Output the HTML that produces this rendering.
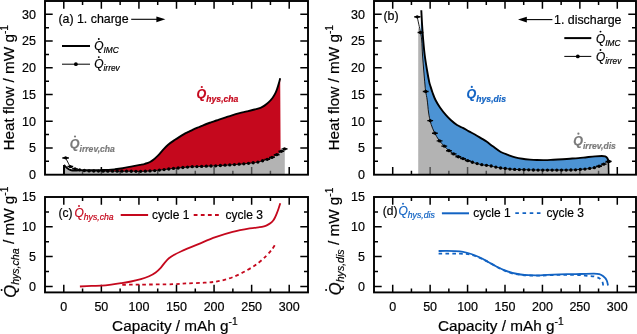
<!DOCTYPE html>
<html><head><meta charset="utf-8"><style>
html,body{margin:0;padding:0;background:#fff;width:637px;height:334px;overflow:hidden}
svg{display:block;will-change:transform}
text{font-family:"Liberation Sans",sans-serif;stroke:#000;stroke-width:.2px}
</style></head><body>
<svg xmlns="http://www.w3.org/2000/svg" width="637" height="334" viewBox="0 0 637 334">
<path d="M392.71,292.4 v-7.7 M392.71,197 v7.7 M411.43,292.4 v-4 M411.43,197 v4 M430.14,292.4 v-7.7 M430.14,197 v7.7 M448.86,292.4 v-4 M448.86,197 v4 M467.57,292.4 v-7.7 M467.57,197 v7.7 M486.29,292.4 v-4 M486.29,197 v4 M505,292.4 v-7.7 M505,197 v7.7 M523.71,292.4 v-4 M523.71,197 v4 M542.43,292.4 v-7.7 M542.43,197 v7.7 M561.14,292.4 v-4 M561.14,197 v4 M579.86,292.4 v-7.7 M579.86,197 v7.7 M598.57,292.4 v-4 M598.57,197 v4 M617.29,292.4 v-7.7 M617.29,197 v7.7 M374,286.44 h7.7 M636,286.44 h-7.7 M374,271.53 h4 M636,271.53 h-4 M374,256.62 h7.7 M636,256.62 h-7.7 M374,241.72 h4 M636,241.72 h-4 M374,226.81 h7.7 M636,226.81 h-7.7 M374,211.91 h4 M636,211.91 h-4" stroke="#000" stroke-width="1.5" fill="none"/>
<path d="M63.79,292.4 v-7.7 M63.79,197 v7.7 M82.57,292.4 v-4 M82.57,197 v4 M101.36,292.4 v-7.7 M101.36,197 v7.7 M120.14,292.4 v-4 M120.14,197 v4 M138.93,292.4 v-7.7 M138.93,197 v7.7 M157.71,292.4 v-4 M157.71,197 v4 M176.5,292.4 v-7.7 M176.5,197 v7.7 M195.29,292.4 v-4 M195.29,197 v4 M214.07,292.4 v-7.7 M214.07,197 v7.7 M232.86,292.4 v-4 M232.86,197 v4 M251.64,292.4 v-7.7 M251.64,197 v7.7 M270.43,292.4 v-4 M270.43,197 v4 M289.21,292.4 v-7.7 M289.21,197 v7.7 M45,286.44 h7.7 M308,286.44 h-7.7 M45,271.53 h4 M308,271.53 h-4 M45,256.62 h7.7 M308,256.62 h-7.7 M45,241.72 h4 M308,241.72 h-4 M45,226.81 h7.7 M308,226.81 h-7.7 M45,211.91 h4 M308,211.91 h-4" stroke="#000" stroke-width="1.5" fill="none"/>
<path d="M392.71,174.7 v-7.7 M392.71,1 v7.7 M411.43,174.7 v-4 M411.43,1 v4 M430.14,174.7 v-7.7 M430.14,1 v7.7 M448.86,174.7 v-4 M448.86,1 v4 M467.57,174.7 v-7.7 M467.57,1 v7.7 M486.29,174.7 v-4 M486.29,1 v4 M505,174.7 v-7.7 M505,1 v7.7 M523.71,174.7 v-4 M523.71,1 v4 M542.43,174.7 v-7.7 M542.43,1 v7.7 M561.14,174.7 v-4 M561.14,1 v4 M579.86,174.7 v-7.7 M579.86,1 v7.7 M598.57,174.7 v-4 M598.57,1 v4 M617.29,174.7 v-7.7 M617.29,1 v7.7 M374,161.34 h4 M636,161.34 h-4 M374,147.98 h7.7 M636,147.98 h-7.7 M374,134.62 h4 M636,134.62 h-4 M374,121.25 h7.7 M636,121.25 h-7.7 M374,107.89 h4 M636,107.89 h-4 M374,94.53 h7.7 M636,94.53 h-7.7 M374,81.17 h4 M636,81.17 h-4 M374,67.81 h7.7 M636,67.81 h-7.7 M374,54.45 h4 M636,54.45 h-4 M374,41.08 h7.7 M636,41.08 h-7.7 M374,27.72 h4 M636,27.72 h-4 M374,14.36 h7.7 M636,14.36 h-7.7" stroke="#000" stroke-width="1.5" fill="none"/>
<path d="M63.79,174.7 v-7.7 M63.79,1 v7.7 M82.57,174.7 v-4 M82.57,1 v4 M101.36,174.7 v-7.7 M101.36,1 v7.7 M120.14,174.7 v-4 M120.14,1 v4 M138.93,174.7 v-7.7 M138.93,1 v7.7 M157.71,174.7 v-4 M157.71,1 v4 M176.5,174.7 v-7.7 M176.5,1 v7.7 M195.29,174.7 v-4 M195.29,1 v4 M214.07,174.7 v-7.7 M214.07,1 v7.7 M232.86,174.7 v-4 M232.86,1 v4 M251.64,174.7 v-7.7 M251.64,1 v7.7 M270.43,174.7 v-4 M270.43,1 v4 M289.21,174.7 v-7.7 M289.21,1 v7.7 M45,161.34 h4 M308,161.34 h-4 M45,147.98 h7.7 M308,147.98 h-7.7 M45,134.62 h4 M308,134.62 h-4 M45,121.25 h7.7 M308,121.25 h-7.7 M45,107.89 h4 M308,107.89 h-4 M45,94.53 h7.7 M308,94.53 h-7.7 M45,81.17 h4 M308,81.17 h-4 M45,67.81 h7.7 M308,67.81 h-7.7 M45,54.45 h4 M308,54.45 h-4 M45,41.08 h7.7 M308,41.08 h-7.7 M45,27.72 h4 M308,27.72 h-4 M45,14.36 h7.7 M308,14.36 h-7.7" stroke="#000" stroke-width="1.5" fill="none"/>
<path d="M64,174.7 L64,166.5 C64.33,166.83 65.25,168 66,168.5 C66.75,169 67.5,169.22 68.5,169.5 C69.5,169.78 70.75,169.98 72,170.2 C73.25,170.42 73.98,170.75 76,170.8 C78.02,170.85 81.98,170.48 84.1,170.5 C86.22,170.52 86.05,170.8 88.7,170.9 C91.35,171 96.45,171.05 100,171.1 C103.55,171.15 105,171.18 110,171.2 C115,171.22 125,171.17 130,171.2 C135,171.23 137.5,171.4 140,171.4 C142.5,171.4 143.33,171.28 145,171.2 C146.67,171.12 148.4,171 150,170.9 C151.6,170.8 153.05,170.73 154.6,170.6 C156.15,170.47 157.73,170.27 159.3,170.1 C160.87,169.93 162.42,169.78 164,169.6 C165.58,169.42 167.22,169.2 168.8,169 C170.38,168.8 171.93,168.57 173.5,168.4 C175.07,168.23 176.63,168.15 178.2,168 C179.77,167.85 181.33,167.65 182.9,167.5 C184.47,167.35 186.02,167.23 187.6,167.1 C189.18,166.97 190.9,166.78 192.4,166.7 C193.9,166.62 192.78,166.75 196.6,166.6 C200.42,166.45 209.03,166.13 215.3,165.8 C221.57,165.47 229.25,164.95 234.2,164.6 C239.15,164.25 241.87,164 245,163.7 C248.13,163.4 250.83,163.07 253,162.8 C255.17,162.53 256.43,162.43 258,162.1 C259.57,161.77 260.92,161.23 262.4,160.8 C263.88,160.37 265.38,160.02 266.9,159.5 C268.42,158.98 269.98,158.42 271.5,157.7 C273.02,156.98 274.48,156.18 276,155.2 C277.52,154.22 279.18,152.85 280.6,151.8 C282.02,150.75 283.85,149.38 284.5,148.9 L284.8,148.9 L284.8,174.7 Z" fill="#838383" fill-opacity="0.61"/>
<path d="M100,170.1 C101.43,170.07 106.1,170.03 108.6,169.9 C111.1,169.77 112.65,169.58 115,169.3 C117.35,169.02 119.83,168.68 122.7,168.2 C125.57,167.72 129.32,166.95 132.2,166.4 C135.08,165.85 137.87,165.33 140,164.9 C142.13,164.47 143.33,164.28 145,163.8 C146.67,163.32 148.43,162.82 150,162 C151.57,161.18 153.03,160 154.4,158.9 C155.77,157.8 156.73,156.95 158.2,155.4 C159.67,153.85 161.55,151.38 163.2,149.6 C164.85,147.82 166.13,146.33 168.1,144.7 C170.07,143.07 173.1,141.1 175,139.8 C176.9,138.5 178,137.83 179.5,136.9 C181,135.97 182.5,135.03 184,134.2 C185.5,133.37 187,132.67 188.5,131.9 C190,131.13 191.5,130.32 193,129.6 C194.5,128.88 196,128.23 197.5,127.6 C199,126.97 200.52,126.4 202,125.8 C203.48,125.2 204.92,124.57 206.4,124 C207.88,123.43 209.47,122.9 210.9,122.4 C212.33,121.9 213.65,121.47 215,121 C216.35,120.53 217.33,120.17 219,119.6 C220.67,119.03 222.83,118.32 225,117.6 C227.17,116.88 229.58,116.03 232,115.3 C234.42,114.57 237,113.85 239.5,113.2 C242,112.55 244.5,112.02 247,111.4 C249.5,110.78 252.25,110.1 254.5,109.5 C256.75,108.9 258.83,108.45 260.5,107.8 C262.17,107.15 263.17,106.5 264.5,105.6 C265.83,104.7 267.17,103.67 268.5,102.4 C269.83,101.13 271.35,99.53 272.5,98 C273.65,96.47 274.6,94.8 275.4,93.2 C276.2,91.6 276.73,90 277.3,88.4 C277.87,86.8 278.32,85.28 278.8,83.6 C279.28,81.92 279.97,79.18 280.2,78.3 L280.6,151.8 C279.83,152.37 277.52,154.22 276,155.2 C274.48,156.18 273.02,156.98 271.5,157.7 C269.98,158.42 268.42,158.98 266.9,159.5 C265.38,160.02 263.88,160.37 262.4,160.8 C260.92,161.23 259.57,161.77 258,162.1 C256.43,162.43 255.17,162.53 253,162.8 C250.83,163.07 248.13,163.4 245,163.7 C241.87,164 239.15,164.25 234.2,164.6 C229.25,164.95 221.57,165.47 215.3,165.8 C209.03,166.13 200.42,166.45 196.6,166.6 C192.78,166.75 193.9,166.62 192.4,166.7 C190.9,166.78 189.18,166.97 187.6,167.1 C186.02,167.23 184.47,167.35 182.9,167.5 C181.33,167.65 179.77,167.85 178.2,168 C176.63,168.15 175.07,168.23 173.5,168.4 C171.93,168.57 170.38,168.8 168.8,169 C167.22,169.2 165.58,169.42 164,169.6 C162.42,169.78 160.87,169.93 159.3,170.1 C157.73,170.27 156.15,170.47 154.6,170.6 C153.05,170.73 151.6,170.8 150,170.9 C148.4,171 146.67,171.12 145,171.2 C143.33,171.28 142.5,171.4 140,171.4 C137.5,171.4 135,171.23 130,171.2 C125,171.17 115,171.22 110,171.2 C105,171.18 101.67,171.12 100,171.1 Z" fill="#c5081d"/>
<path d="M418.2,174.7 L418.2,27 L420.5,32.5 C420.7,33.75 421.37,36.25 421.7,40 C422.03,43.75 422.17,50 422.5,55 C422.83,60 423.28,65 423.7,70 C424.12,75 424.67,81.42 425,85 C425.33,88.58 425.33,89 425.7,91.5 C426.07,94 426.73,96.58 427.2,100 C427.67,103.42 428.08,108.88 428.5,112 C428.92,115.12 429.25,116.62 429.7,118.7 C430.15,120.78 430.43,122.25 431.2,124.5 C431.97,126.75 432.98,129.55 434.3,132.2 C435.62,134.85 437.45,138.1 439.1,140.4 C440.75,142.7 442.58,144.3 444.2,146 C445.82,147.7 447.32,149.33 448.8,150.6 C450.28,151.87 451.53,152.58 453.1,153.6 C454.67,154.62 456.5,155.85 458.2,156.7 C459.9,157.55 461.62,158 463.3,158.7 C464.98,159.4 466.62,160.25 468.3,160.9 C469.98,161.55 471.7,162.08 473.4,162.6 C475.1,163.12 476.8,163.6 478.5,164 C480.2,164.4 482.1,164.77 483.6,165 C485.1,165.23 486.25,165.23 487.5,165.4 C488.75,165.57 489.72,165.72 491.1,166 C492.48,166.28 494.25,166.77 495.8,167.1 C497.35,167.43 498.85,167.77 500.4,168 C501.95,168.23 503.53,168.32 505.1,168.5 C506.67,168.68 508.23,168.95 509.8,169.1 C511.37,169.25 512.95,169.32 514.5,169.4 C516.05,169.48 517.55,169.55 519.1,169.6 C520.65,169.65 522.23,169.67 523.8,169.7 C525.37,169.73 526.9,169.75 528.5,169.8 C530.1,169.85 531.02,169.95 533.4,170 C535.78,170.05 539.7,170.08 542.8,170.1 C545.9,170.12 548.88,170.1 552,170.1 C555.12,170.1 558.37,170.12 561.5,170.1 C564.63,170.08 568.48,170.05 570.8,170 C573.12,169.95 573.85,169.9 575.4,169.8 C576.95,169.7 578.55,169.52 580.1,169.4 C581.65,169.28 583.17,169.25 584.7,169.1 C586.23,168.95 587.7,168.73 589.3,168.5 C590.9,168.27 592.7,168.07 594.3,167.7 C595.9,167.33 597.37,166.87 598.9,166.3 C600.43,165.73 602.17,165.05 603.5,164.3 C604.83,163.55 606.33,162.22 606.9,161.8 L608.7,161.6 L608.7,174.7 Z" fill="#838383" fill-opacity="0.61"/>
<path d="M421.3,10.2 C421.43,12.67 421.78,20.03 422.1,25 C422.42,29.97 422.77,35 423.2,40 C423.63,45 424.07,50 424.7,55 C425.33,60 426.25,65.52 427,70 C427.75,74.48 428.63,79.23 429.2,81.9 C429.77,84.57 429.85,84.23 430.4,86 C430.95,87.77 431.65,90.17 432.5,92.5 C433.35,94.83 434.25,97.5 435.5,100 C436.75,102.5 438.25,104.97 440,107.5 C441.75,110.03 444.17,113.07 446,115.2 C447.83,117.33 449.17,118.67 451,120.3 C452.83,121.93 455.02,123.73 457,125 C458.98,126.27 460.92,126.85 462.9,127.9 C464.88,128.95 466.9,130.2 468.9,131.3 C470.9,132.4 472.9,133.37 474.9,134.5 C476.9,135.63 478.9,136.88 480.9,138.1 C482.9,139.32 484.92,140.43 486.9,141.8 C488.88,143.17 490.48,144.6 492.8,146.3 C495.12,148 498.27,150.57 500.8,152 C503.33,153.43 505.6,154 508,154.9 C510.4,155.8 512.8,156.75 515.2,157.4 C517.6,158.05 519.93,158.43 522.4,158.8 C524.87,159.17 527.57,159.4 530,159.6 C532.43,159.8 534.5,159.92 537,160 C539.5,160.08 542.28,160.15 545,160.1 C547.72,160.05 550.35,159.85 553.3,159.7 C556.25,159.55 559.92,159.37 562.7,159.2 C565.48,159.03 567.38,158.88 570,158.7 C572.62,158.52 575.6,158.35 578.4,158.1 C581.2,157.85 584.02,157.48 586.8,157.2 C589.58,156.92 592.58,156.6 595.1,156.4 C597.62,156.2 600.22,156 601.9,156 C603.58,156 604.3,156.05 605.2,156.4 C606.1,156.75 606.77,157.4 607.3,158.1 C607.83,158.8 608.22,160.18 608.4,160.6 L608.7,161.6 L606.9,161.8 C606.33,162.22 604.83,163.55 603.5,164.3 C602.17,165.05 600.43,165.73 598.9,166.3 C597.37,166.87 595.9,167.33 594.3,167.7 C592.7,168.07 590.9,168.27 589.3,168.5 C587.7,168.73 586.23,168.95 584.7,169.1 C583.17,169.25 581.65,169.28 580.1,169.4 C578.55,169.52 576.95,169.7 575.4,169.8 C573.85,169.9 573.12,169.95 570.8,170 C568.48,170.05 564.63,170.08 561.5,170.1 C558.37,170.12 555.12,170.1 552,170.1 C548.88,170.1 545.9,170.12 542.8,170.1 C539.7,170.08 535.78,170.05 533.4,170 C531.02,169.95 530.1,169.85 528.5,169.8 C526.9,169.75 525.37,169.73 523.8,169.7 C522.23,169.67 520.65,169.65 519.1,169.6 C517.55,169.55 516.05,169.48 514.5,169.4 C512.95,169.32 511.37,169.25 509.8,169.1 C508.23,168.95 506.67,168.68 505.1,168.5 C503.53,168.32 501.95,168.23 500.4,168 C498.85,167.77 497.35,167.43 495.8,167.1 C494.25,166.77 492.48,166.28 491.1,166 C489.72,165.72 488.75,165.57 487.5,165.4 C486.25,165.23 485.1,165.23 483.6,165 C482.1,164.77 480.2,164.4 478.5,164 C476.8,163.6 475.1,163.12 473.4,162.6 C471.7,162.08 469.98,161.55 468.3,160.9 C466.62,160.25 464.98,159.4 463.3,158.7 C461.62,158 459.9,157.55 458.2,156.7 C456.5,155.85 454.67,154.62 453.1,153.6 C451.53,152.58 450.28,151.87 448.8,150.6 C447.32,149.33 445.82,147.7 444.2,146 C442.58,144.3 440.75,142.7 439.1,140.4 C437.45,138.1 435.62,134.85 434.3,132.2 C432.98,129.55 431.97,126.75 431.2,124.5 C430.43,122.25 430.15,120.78 429.7,118.7 C429.25,116.62 428.92,115.12 428.5,112 C428.08,108.88 427.67,103.42 427.2,100 C426.73,96.58 426.07,94 425.7,91.5 C425.33,89 425.33,88.58 425,85 C424.67,81.42 424.12,75 423.7,70 C423.28,65 422.83,60 422.5,55 C422.17,50 422.03,43.75 421.7,40 C421.37,36.25 420.7,33.75 420.5,32.5 Z" fill="#4c93d4"/>
<path d="M64,174.7 L64,164.9" stroke="#000" stroke-width="1.9"/>
<path d="M64,164.9 C64.25,165.18 64.95,166.05 65.5,166.6 C66.05,167.15 66.68,167.72 67.3,168.2 C67.92,168.68 68.55,169.17 69.2,169.5 C69.85,169.83 70.4,170.03 71.2,170.2 C72,170.37 72.7,170.47 74,170.5 C75.3,170.53 76.33,170.45 79,170.4 C81.67,170.35 86.5,170.25 90,170.2 C93.5,170.15 96.9,170.15 100,170.1 C103.1,170.05 106.1,170.03 108.6,169.9 C111.1,169.77 112.65,169.58 115,169.3 C117.35,169.02 119.83,168.68 122.7,168.2 C125.57,167.72 129.32,166.95 132.2,166.4 C135.08,165.85 137.87,165.33 140,164.9 C142.13,164.47 143.33,164.28 145,163.8 C146.67,163.32 148.43,162.82 150,162 C151.57,161.18 153.03,160 154.4,158.9 C155.77,157.8 156.73,156.95 158.2,155.4 C159.67,153.85 161.55,151.38 163.2,149.6 C164.85,147.82 166.13,146.33 168.1,144.7 C170.07,143.07 173.1,141.1 175,139.8 C176.9,138.5 178,137.83 179.5,136.9 C181,135.97 182.5,135.03 184,134.2 C185.5,133.37 187,132.67 188.5,131.9 C190,131.13 191.5,130.32 193,129.6 C194.5,128.88 196,128.23 197.5,127.6 C199,126.97 200.52,126.4 202,125.8 C203.48,125.2 204.92,124.57 206.4,124 C207.88,123.43 209.47,122.9 210.9,122.4 C212.33,121.9 213.65,121.47 215,121 C216.35,120.53 217.33,120.17 219,119.6 C220.67,119.03 222.83,118.32 225,117.6 C227.17,116.88 229.58,116.03 232,115.3 C234.42,114.57 237,113.85 239.5,113.2 C242,112.55 244.5,112.02 247,111.4 C249.5,110.78 252.25,110.1 254.5,109.5 C256.75,108.9 258.83,108.45 260.5,107.8 C262.17,107.15 263.17,106.5 264.5,105.6 C265.83,104.7 267.17,103.67 268.5,102.4 C269.83,101.13 271.35,99.53 272.5,98 C273.65,96.47 274.6,94.8 275.4,93.2 C276.2,91.6 276.73,90 277.3,88.4 C277.87,86.8 278.32,85.28 278.8,83.6 C279.28,81.92 279.97,79.18 280.2,78.3" fill="none" stroke="#000" stroke-width="1.9" stroke-linejoin="round" stroke-linecap="butt" />
<path d="M65.6,157.8 C65.87,158.33 66.57,159.77 67.2,161 C67.83,162.23 68.8,164.15 69.4,165.2 C70,166.25 69.9,166.7 70.8,167.3 C71.7,167.9 73.37,168.38 74.8,168.8 C76.23,169.22 77.85,169.52 79.4,169.8 C80.95,170.08 82.55,170.32 84.1,170.5 C85.65,170.68 86.05,170.8 88.7,170.9 C91.35,171 96.45,171.05 100,171.1 C103.55,171.15 105,171.18 110,171.2 C115,171.22 125,171.17 130,171.2 C135,171.23 137.5,171.4 140,171.4 C142.5,171.4 143.33,171.28 145,171.2 C146.67,171.12 148.4,171 150,170.9 C151.6,170.8 153.05,170.73 154.6,170.6 C156.15,170.47 157.73,170.27 159.3,170.1 C160.87,169.93 162.42,169.78 164,169.6 C165.58,169.42 167.22,169.2 168.8,169 C170.38,168.8 171.93,168.57 173.5,168.4 C175.07,168.23 176.63,168.15 178.2,168 C179.77,167.85 181.33,167.65 182.9,167.5 C184.47,167.35 186.02,167.23 187.6,167.1 C189.18,166.97 190.9,166.78 192.4,166.7 C193.9,166.62 192.78,166.75 196.6,166.6 C200.42,166.45 209.03,166.13 215.3,165.8 C221.57,165.47 229.25,164.95 234.2,164.6 C239.15,164.25 241.87,164 245,163.7 C248.13,163.4 250.83,163.07 253,162.8 C255.17,162.53 256.43,162.43 258,162.1 C259.57,161.77 260.92,161.23 262.4,160.8 C263.88,160.37 265.38,160.02 266.9,159.5 C268.42,158.98 269.98,158.42 271.5,157.7 C273.02,156.98 274.48,156.18 276,155.2 C277.52,154.22 279.18,152.85 280.6,151.8 C282.02,150.75 283.85,149.38 284.5,148.9" fill="none" stroke="#000" stroke-width="0.9" stroke-linejoin="round" stroke-linecap="butt" />
<circle cx="65.6" cy="157.8" r="1.65"/>
<circle cx="70.29" cy="166.53" r="1.65"/>
<circle cx="74.98" cy="168.84" r="1.65"/>
<circle cx="79.67" cy="169.84" r="1.65"/>
<circle cx="84.36" cy="170.52" r="1.65"/>
<circle cx="89.05" cy="170.91" r="1.65"/>
<circle cx="93.74" cy="170.99" r="1.65"/>
<circle cx="98.43" cy="171.07" r="1.65"/>
<circle cx="103.12" cy="171.13" r="1.65"/>
<circle cx="107.81" cy="171.18" r="1.65"/>
<circle cx="112.5" cy="171.2" r="1.65"/>
<circle cx="117.19" cy="171.2" r="1.65"/>
<circle cx="121.88" cy="171.2" r="1.65"/>
<circle cx="126.57" cy="171.2" r="1.65"/>
<circle cx="131.26" cy="171.23" r="1.65"/>
<circle cx="135.95" cy="171.32" r="1.65"/>
<circle cx="140.64" cy="171.37" r="1.65"/>
<circle cx="145.33" cy="171.18" r="1.65"/>
<circle cx="150.02" cy="170.9" r="1.65"/>
<circle cx="154.71" cy="170.59" r="1.65"/>
<circle cx="159.4" cy="170.09" r="1.65"/>
<circle cx="164.09" cy="169.59" r="1.65"/>
<circle cx="168.78" cy="169" r="1.65"/>
<circle cx="173.47" cy="168.4" r="1.65"/>
<circle cx="178.16" cy="168" r="1.65"/>
<circle cx="182.85" cy="167.51" r="1.65"/>
<circle cx="187.54" cy="167.11" r="1.65"/>
<circle cx="192.23" cy="166.71" r="1.65"/>
<circle cx="196.92" cy="166.59" r="1.65"/>
<circle cx="201.61" cy="166.39" r="1.65"/>
<circle cx="206.3" cy="166.19" r="1.65"/>
<circle cx="210.99" cy="165.98" r="1.65"/>
<circle cx="215.68" cy="165.78" r="1.65"/>
<circle cx="220.37" cy="165.48" r="1.65"/>
<circle cx="225.06" cy="165.18" r="1.65"/>
<circle cx="229.75" cy="164.88" r="1.65"/>
<circle cx="234.44" cy="164.58" r="1.65"/>
<circle cx="239.13" cy="164.19" r="1.65"/>
<circle cx="243.82" cy="163.8" r="1.65"/>
<circle cx="248.51" cy="163.31" r="1.65"/>
<circle cx="253.2" cy="162.77" r="1.65"/>
<circle cx="257.89" cy="162.12" r="1.65"/>
<circle cx="262.58" cy="160.75" r="1.65"/>
<circle cx="267.27" cy="159.36" r="1.65"/>
<circle cx="271.96" cy="157.44" r="1.65"/>
<circle cx="276.65" cy="154.72" r="1.65"/>
<circle cx="281.34" cy="151.25" r="1.65"/>
<circle cx="284.5" cy="148.9" r="1.65"/>
<path d="M62.3,158 h6.6" stroke="#000" stroke-width="1.2"/>
<path d="M284.5,148.9 h2.8" stroke="#000" stroke-width="1.2"/>
<path d="M421.3,10.2 C421.43,12.67 421.78,20.03 422.1,25 C422.42,29.97 422.77,35 423.2,40 C423.63,45 424.07,50 424.7,55 C425.33,60 426.25,65.52 427,70 C427.75,74.48 428.63,79.23 429.2,81.9 C429.77,84.57 429.85,84.23 430.4,86 C430.95,87.77 431.65,90.17 432.5,92.5 C433.35,94.83 434.25,97.5 435.5,100 C436.75,102.5 438.25,104.97 440,107.5 C441.75,110.03 444.17,113.07 446,115.2 C447.83,117.33 449.17,118.67 451,120.3 C452.83,121.93 455.02,123.73 457,125 C458.98,126.27 460.92,126.85 462.9,127.9 C464.88,128.95 466.9,130.2 468.9,131.3 C470.9,132.4 472.9,133.37 474.9,134.5 C476.9,135.63 478.9,136.88 480.9,138.1 C482.9,139.32 484.92,140.43 486.9,141.8 C488.88,143.17 490.48,144.6 492.8,146.3 C495.12,148 498.27,150.57 500.8,152 C503.33,153.43 505.6,154 508,154.9 C510.4,155.8 512.8,156.75 515.2,157.4 C517.6,158.05 519.93,158.43 522.4,158.8 C524.87,159.17 527.57,159.4 530,159.6 C532.43,159.8 534.5,159.92 537,160 C539.5,160.08 542.28,160.15 545,160.1 C547.72,160.05 550.35,159.85 553.3,159.7 C556.25,159.55 559.92,159.37 562.7,159.2 C565.48,159.03 567.38,158.88 570,158.7 C572.62,158.52 575.6,158.35 578.4,158.1 C581.2,157.85 584.02,157.48 586.8,157.2 C589.58,156.92 592.58,156.6 595.1,156.4 C597.62,156.2 600.22,156 601.9,156 C603.58,156 604.3,156.05 605.2,156.4 C606.1,156.75 606.77,157.4 607.3,158.1 C607.83,158.8 608.22,160.18 608.4,160.6" fill="none" stroke="#000" stroke-width="1.9" stroke-linejoin="round" stroke-linecap="butt" />
<path d="M608.4,160.6 L608.7,174.7" stroke="#000" stroke-width="1.6"/>
<path d="M417.2,16.8 C417.75,19.42 419.75,28.63 420.5,32.5 C421.25,36.37 421.37,36.25 421.7,40 C422.03,43.75 422.17,50 422.5,55 C422.83,60 423.28,65 423.7,70 C424.12,75 424.67,81.42 425,85 C425.33,88.58 425.33,89 425.7,91.5 C426.07,94 426.73,96.58 427.2,100 C427.67,103.42 428.08,108.88 428.5,112 C428.92,115.12 429.25,116.62 429.7,118.7 C430.15,120.78 430.43,122.25 431.2,124.5 C431.97,126.75 432.98,129.55 434.3,132.2 C435.62,134.85 437.45,138.1 439.1,140.4 C440.75,142.7 442.58,144.3 444.2,146 C445.82,147.7 447.32,149.33 448.8,150.6 C450.28,151.87 451.53,152.58 453.1,153.6 C454.67,154.62 456.5,155.85 458.2,156.7 C459.9,157.55 461.62,158 463.3,158.7 C464.98,159.4 466.62,160.25 468.3,160.9 C469.98,161.55 471.7,162.08 473.4,162.6 C475.1,163.12 476.8,163.6 478.5,164 C480.2,164.4 482.1,164.77 483.6,165 C485.1,165.23 486.25,165.23 487.5,165.4 C488.75,165.57 489.72,165.72 491.1,166 C492.48,166.28 494.25,166.77 495.8,167.1 C497.35,167.43 498.85,167.77 500.4,168 C501.95,168.23 503.53,168.32 505.1,168.5 C506.67,168.68 508.23,168.95 509.8,169.1 C511.37,169.25 512.95,169.32 514.5,169.4 C516.05,169.48 517.55,169.55 519.1,169.6 C520.65,169.65 522.23,169.67 523.8,169.7 C525.37,169.73 526.9,169.75 528.5,169.8 C530.1,169.85 531.02,169.95 533.4,170 C535.78,170.05 539.7,170.08 542.8,170.1 C545.9,170.12 548.88,170.1 552,170.1 C555.12,170.1 558.37,170.12 561.5,170.1 C564.63,170.08 568.48,170.05 570.8,170 C573.12,169.95 573.85,169.9 575.4,169.8 C576.95,169.7 578.55,169.52 580.1,169.4 C581.65,169.28 583.17,169.25 584.7,169.1 C586.23,168.95 587.7,168.73 589.3,168.5 C590.9,168.27 592.7,168.07 594.3,167.7 C595.9,167.33 597.37,166.87 598.9,166.3 C600.43,165.73 602.17,165.05 603.5,164.3 C604.83,163.55 605.97,162.28 606.9,161.8 C607.83,161.32 608.73,161.47 609.1,161.4" fill="none" stroke="#000" stroke-width="0.9" stroke-linejoin="round" stroke-linecap="butt" />
<circle cx="417.2" cy="16.8" r="1.65"/>
<circle cx="420.5" cy="32.5" r="1.65"/>
<circle cx="425.7" cy="91.5" r="1.65"/>
<circle cx="430.2" cy="120.63" r="1.65"/>
<circle cx="434.89" cy="133.21" r="1.65"/>
<circle cx="439.58" cy="140.93" r="1.65"/>
<circle cx="444.27" cy="146.07" r="1.65"/>
<circle cx="448.96" cy="150.71" r="1.65"/>
<circle cx="453.65" cy="153.93" r="1.65"/>
<circle cx="458.34" cy="156.75" r="1.65"/>
<circle cx="463.03" cy="158.59" r="1.65"/>
<circle cx="467.72" cy="160.64" r="1.65"/>
<circle cx="472.41" cy="162.27" r="1.65"/>
<circle cx="477.1" cy="163.62" r="1.65"/>
<circle cx="481.79" cy="164.65" r="1.65"/>
<circle cx="486.48" cy="165.3" r="1.65"/>
<circle cx="491.17" cy="166.02" r="1.65"/>
<circle cx="495.86" cy="167.11" r="1.65"/>
<circle cx="500.55" cy="168.02" r="1.65"/>
<circle cx="505.24" cy="168.52" r="1.65"/>
<circle cx="509.93" cy="169.11" r="1.65"/>
<circle cx="514.62" cy="169.41" r="1.65"/>
<circle cx="519.31" cy="169.6" r="1.65"/>
<circle cx="524" cy="169.7" r="1.65"/>
<circle cx="528.69" cy="169.81" r="1.65"/>
<circle cx="533.38" cy="170" r="1.65"/>
<circle cx="538.07" cy="170.05" r="1.65"/>
<circle cx="542.76" cy="170.1" r="1.65"/>
<circle cx="547.45" cy="170.1" r="1.65"/>
<circle cx="552.14" cy="170.1" r="1.65"/>
<circle cx="556.83" cy="170.1" r="1.65"/>
<circle cx="561.52" cy="170.1" r="1.65"/>
<circle cx="566.21" cy="170.05" r="1.65"/>
<circle cx="570.9" cy="170" r="1.65"/>
<circle cx="575.59" cy="169.78" r="1.65"/>
<circle cx="580.28" cy="169.39" r="1.65"/>
<circle cx="584.97" cy="169.06" r="1.65"/>
<circle cx="589.66" cy="168.44" r="1.65"/>
<circle cx="594.35" cy="167.68" r="1.65"/>
<circle cx="599.04" cy="166.24" r="1.65"/>
<circle cx="603.73" cy="164.13" r="1.65"/>
<circle cx="608.42" cy="161.52" r="1.65"/>
<circle cx="609.1" cy="161.4" r="1.65"/>
<path d="M62.7,157.8 h5.8 M67.39,166.53 h5.8 M72.08,168.84 h5.8 M264.37,159.36 h5.8 M269.06,157.44 h5.8 M273.75,154.72 h5.8 M278.44,151.25 h5.8 M281.6,148.9 h5.8 M414.3,16.8 h5.8 M417.6,32.5 h5.8 M422.8,91.5 h5.8 M427.3,120.63 h5.8 M431.99,133.21 h5.8 M436.68,140.93 h5.8 M441.37,146.07 h5.8 M446.06,150.71 h5.8 M450.75,153.93 h5.8 M455.44,156.75 h5.8 M460.13,158.59 h5.8 M464.82,160.64 h5.8 M596.14,166.24 h5.8 M600.83,164.13 h5.8 M605.52,161.52 h5.8" stroke="#000" stroke-width="1.35"/>
<path d="M414.5,16.8 h6" stroke="#000" stroke-width="1.2"/>
<path d="M609.1,161.4 h2.4" stroke="#000" stroke-width="1.3"/>
<path d="M79.9,286.5 C81.83,286.4 87.92,286.05 91.5,285.9 C95.08,285.75 98.12,285.82 101.4,285.6 C104.68,285.38 107.92,285 111.2,284.6 C114.48,284.2 117.8,283.72 121.1,283.2 C124.4,282.68 127.7,282.17 131,281.5 C134.3,280.83 137.88,280.08 140.9,279.2 C143.92,278.32 146.63,277.33 149.1,276.2 C151.57,275.07 153.77,273.8 155.7,272.4 C157.63,271 159.18,269.43 160.7,267.8 C162.22,266.17 163.43,264.18 164.8,262.6 C166.17,261.02 167.4,259.57 168.9,258.3 C170.4,257.03 171.72,256.18 173.8,255 C175.88,253.82 177.3,253.02 181.4,251.2 C185.5,249.38 192.72,246.43 198.4,244.1 C204.08,241.77 209.8,239.23 215.5,237.2 C221.2,235.17 226.9,233.37 232.6,231.9 C238.3,230.43 245.2,229.18 249.7,228.4 C254.2,227.62 257.22,227.55 259.6,227.2 C261.98,226.85 262.73,226.65 264,226.3 C265.27,225.95 266.15,225.6 267.2,225.1 C268.25,224.6 269.33,224.03 270.3,223.3 C271.27,222.57 272.22,221.67 273,220.7 C273.78,219.73 274.37,218.72 275,217.5 C275.63,216.28 276.2,214.9 276.8,213.4 C277.4,211.9 278.02,210.18 278.6,208.5 C279.18,206.82 280.02,204.17 280.3,203.3" fill="none" stroke="#c5081d" stroke-width="1.8" stroke-linejoin="round" stroke-linecap="butt" />
<path d="M121.1,284.8 C124.25,284.77 131.22,284.7 140,284.6 C148.78,284.5 165.95,284.4 173.8,284.2 C181.65,284 182.05,283.65 187.1,283.4 C192.15,283.15 198.88,283.07 204.1,282.7 C209.32,282.33 213.65,282.12 218.4,281.2 C223.15,280.28 227.87,279 232.6,277.2 C237.33,275.4 242.53,272.77 246.8,270.4 C251.07,268.03 254.88,265.5 258.2,263 C261.52,260.5 264.33,257.77 266.7,255.4 C269.07,253.03 270.92,250.73 272.4,248.8 C273.88,246.87 275.07,244.63 275.6,243.8" fill="none" stroke="#c5081d" stroke-width="1.8" stroke-linejoin="round" stroke-linecap="butt" stroke-dasharray="3.6,3.1" stroke-dashoffset="-1.3"/>
<path d="M438.6,253.6 C440.5,253.6 446.43,253.58 450,253.6 C453.57,253.62 457.02,253.6 460,253.7 C462.98,253.8 465.4,253.82 467.9,254.2 C470.4,254.58 472.48,255.13 475,256 C477.52,256.87 480.5,258.23 483,259.4 C485.5,260.57 487.67,261.73 490,263 C492.33,264.27 494.67,265.77 497,267 C499.33,268.23 501.5,269.35 504,270.4 C506.5,271.45 509.23,272.57 512,273.3 C514.77,274.03 517.8,274.43 520.6,274.8 C523.4,275.17 525.57,275.37 528.8,275.5 C532.03,275.63 535.88,275.68 540,275.6 C544.12,275.52 549.02,275.13 553.5,275 C557.98,274.87 562.42,274.77 566.9,274.8 C571.38,274.83 577.03,275.03 580.4,275.2 C583.77,275.37 584.85,275.6 587.1,275.8 C589.35,276 591.87,275.98 593.9,276.4 C595.93,276.82 597.85,277.32 599.3,278.3 C600.75,279.28 601.97,281.02 602.6,282.3 C603.23,283.58 603.02,285.38 603.1,286" fill="none" stroke="#1263c3" stroke-width="1.8" stroke-linejoin="round" stroke-linecap="butt" stroke-dasharray="3.6,3.2"/>
<path d="M438.6,251 C439.92,250.98 443.82,250.88 446.5,250.9 C449.18,250.92 451.95,250.93 454.7,251.1 C457.45,251.27 460.25,251.42 463,251.9 C465.75,252.38 468.47,253.1 471.2,254 C473.93,254.9 476.65,256.02 479.4,257.3 C482.15,258.58 484.95,260.2 487.7,261.7 C490.45,263.2 493.17,264.9 495.9,266.3 C498.63,267.7 501.35,269 504.1,270.1 C506.85,271.2 509.65,272.17 512.4,272.9 C515.15,273.63 517.87,274.12 520.6,274.5 C523.33,274.88 525.57,275.07 528.8,275.2 C532.03,275.33 535.88,275.4 540,275.3 C544.12,275.2 549.02,274.78 553.5,274.6 C557.98,274.42 562.42,274.3 566.9,274.2 C571.38,274.1 575.9,274.08 580.4,274 C584.9,273.92 590.75,273.67 593.9,273.7 C597.05,273.73 597.73,273.77 599.3,274.2 C600.87,274.63 602.07,275.28 603.3,276.3 C604.53,277.32 605.92,278.77 606.7,280.3 C607.48,281.83 607.78,284.63 608,285.5" fill="none" stroke="#1263c3" stroke-width="1.8" stroke-linejoin="round" stroke-linecap="butt" />
<rect x="45" y="1" width="263" height="173.7" fill="none" stroke="#000" stroke-width="1.9"/>
<rect x="374" y="1" width="262" height="173.7" fill="none" stroke="#000" stroke-width="1.9"/>
<rect x="45" y="197" width="263" height="95.4" fill="none" stroke="#000" stroke-width="1.9"/>
<rect x="374" y="197" width="262" height="95.4" fill="none" stroke="#000" stroke-width="1.9"/>
<text x="36" y="179.1" font-size="12.5" text-anchor="end" fill="#000" >0</text>
<text x="36" y="152.38" font-size="12.5" text-anchor="end" fill="#000" >5</text>
<text x="36" y="125.65" font-size="12.5" text-anchor="end" fill="#000" >10</text>
<text x="36" y="98.93" font-size="12.5" text-anchor="end" fill="#000" >15</text>
<text x="36" y="72.21" font-size="12.5" text-anchor="end" fill="#000" >20</text>
<text x="36" y="45.48" font-size="12.5" text-anchor="end" fill="#000" >25</text>
<text x="36" y="18.76" font-size="12.5" text-anchor="end" fill="#000" >30</text>
<text x="365" y="179.1" font-size="12.5" text-anchor="end" fill="#000" >0</text>
<text x="365" y="152.38" font-size="12.5" text-anchor="end" fill="#000" >5</text>
<text x="365" y="125.65" font-size="12.5" text-anchor="end" fill="#000" >10</text>
<text x="365" y="98.93" font-size="12.5" text-anchor="end" fill="#000" >15</text>
<text x="365" y="72.21" font-size="12.5" text-anchor="end" fill="#000" >20</text>
<text x="365" y="45.48" font-size="12.5" text-anchor="end" fill="#000" >25</text>
<text x="365" y="18.76" font-size="12.5" text-anchor="end" fill="#000" >30</text>
<text x="36" y="290.84" font-size="12.5" text-anchor="end" fill="#000" >0</text>
<text x="36" y="261.02" font-size="12.5" text-anchor="end" fill="#000" >5</text>
<text x="36" y="231.21" font-size="12.5" text-anchor="end" fill="#000" >10</text>
<text x="36" y="201.4" font-size="12.5" text-anchor="end" fill="#000" >15</text>
<text x="365" y="290.84" font-size="12.5" text-anchor="end" fill="#000" >0</text>
<text x="365" y="261.02" font-size="12.5" text-anchor="end" fill="#000" >5</text>
<text x="365" y="231.21" font-size="12.5" text-anchor="end" fill="#000" >10</text>
<text x="365" y="201.4" font-size="12.5" text-anchor="end" fill="#000" >15</text>
<text x="63.79" y="310.7" font-size="12.5" text-anchor="middle" fill="#000" >0</text>
<text x="101.36" y="310.7" font-size="12.5" text-anchor="middle" fill="#000" >50</text>
<text x="138.93" y="310.7" font-size="12.5" text-anchor="middle" fill="#000" >100</text>
<text x="176.5" y="310.7" font-size="12.5" text-anchor="middle" fill="#000" >150</text>
<text x="214.07" y="310.7" font-size="12.5" text-anchor="middle" fill="#000" >200</text>
<text x="251.64" y="310.7" font-size="12.5" text-anchor="middle" fill="#000" >250</text>
<text x="289.21" y="310.7" font-size="12.5" text-anchor="middle" fill="#000" >300</text>
<text x="392.71" y="310.7" font-size="12.5" text-anchor="middle" fill="#000" >0</text>
<text x="430.14" y="310.7" font-size="12.5" text-anchor="middle" fill="#000" >50</text>
<text x="467.57" y="310.7" font-size="12.5" text-anchor="middle" fill="#000" >100</text>
<text x="505" y="310.7" font-size="12.5" text-anchor="middle" fill="#000" >150</text>
<text x="542.43" y="310.7" font-size="12.5" text-anchor="middle" fill="#000" >200</text>
<text x="579.86" y="310.7" font-size="12.5" text-anchor="middle" fill="#000" >250</text>
<text x="617.29" y="310.7" font-size="12.5" text-anchor="middle" fill="#000" >300</text>
<text x="112.1" y="330.5" font-size="15.3">Capacity / mAh g<tspan font-size="10.2" dy="-6">-1</tspan></text>
<text x="438" y="330.5" font-size="15.3">Capacity / mAh g<tspan font-size="10.2" dy="-6">-1</tspan></text>
<text transform="translate(14.4,87.8) rotate(-90)" x="0" y="0" font-size="15.3" text-anchor="middle">Heat flow / mW g<tspan font-size="10.2" dy="-6">-1</tspan></text>
<text transform="translate(339.4,87.8) rotate(-90)" x="0" y="0" font-size="15.3" text-anchor="middle">Heat flow / mW g<tspan font-size="10.2" dy="-6">-1</tspan></text>
<text transform="translate(14.4,242.2) rotate(-90)" x="0" y="0" font-size="15.3" text-anchor="middle"><tspan font-style="italic" font-size="16.6" dy="1.4">Q</tspan><tspan font-size="10.6" font-style="italic" dy="3.2">hys,cha</tspan><tspan dy="-4.6"> / mW g</tspan><tspan font-size="10.2" dy="-6">-1</tspan></text>
<text transform="translate(339.4,241.4) rotate(-90)" x="0" y="0" font-size="15.3" text-anchor="middle"><tspan font-style="italic" font-size="16.6" dy="1.4">Q</tspan><tspan font-size="10.6" font-style="italic" dy="3.2">hys,dis</tspan><tspan dy="-4.6"> / mW g</tspan><tspan font-size="10.2" dy="-6">-1</tspan></text>
<circle cx="1.6" cy="290.0" r="0.95"/>
<circle cx="326.1" cy="290.0" r="0.95"/>
<text x="58.4" y="23" font-size="12.4" text-anchor="start" fill="#000" >(a) 1. charge</text>
<path d="M131.2,19.3 H157" stroke="#000" stroke-width="1.1"/>
<path d="M165.4,19.3 L156.4,16.45 L156.4,22.15 Z" fill="#000"/>
<path d="M62,46 H90" stroke="#000" stroke-width="2"/>
<path d="M62,64.2 H90" stroke="#000" stroke-width="1"/>
<circle cx="75.9" cy="64.2" r="1.9"/>
<text x="94.2" y="50.3" font-size="12" font-style="italic" fill="#000" style="stroke:#000">Q<tspan font-size="8.3" dy="2.9">IMC</tspan></text>
<circle cx="98.8" cy="39" r="0.95" fill="#000"/>
<text x="94.2" y="68.4" font-size="12" font-style="italic" fill="#000" style="stroke:#000">Q<tspan font-size="8.3" dy="2.9">irrev</tspan></text>
<circle cx="98.8" cy="57.1" r="0.95" fill="#000"/>
<text x="196.6" y="98.4" font-size="12.5" font-style="italic" fill="#c5081d" style="stroke:#c5081d" font-weight="bold">Q<tspan font-size="8.6" dy="3.9">hys,cha</tspan></text>
<circle cx="201.8" cy="87" r="1.1" fill="#c5081d"/>
<text x="69.8" y="147.9" font-size="12.5" font-style="italic" fill="#7a7a7a" style="stroke:#7a7a7a" font-weight="bold">Q<tspan font-size="8.6" dy="3.9">irrev,cha</tspan></text>
<circle cx="75" cy="136.5" r="1.1" fill="#7a7a7a"/>
<text x="383.4" y="20.1" font-size="12.4" text-anchor="start" fill="#000" >(b)</text>
<text x="554" y="23.5" font-size="12.4" text-anchor="start" fill="#000" >1. discharge</text>
<path d="M526,19.6 H552.4" stroke="#000" stroke-width="1.1"/>
<path d="M518,19.6 L526.8,16.75 L526.8,22.45 Z" fill="#000"/>
<path d="M564.3,38.1 H591.3" stroke="#000" stroke-width="2"/>
<path d="M564.3,56.4 H591.3" stroke="#000" stroke-width="1"/>
<circle cx="577.8" cy="56.4" r="1.9"/>
<text x="595.9" y="42.9" font-size="12" font-style="italic" fill="#000" style="stroke:#000">Q<tspan font-size="8.3" dy="2.9">IMC</tspan></text>
<circle cx="600.5" cy="31.6" r="0.95" fill="#000"/>
<text x="595.9" y="61.3" font-size="12" font-style="italic" fill="#000" style="stroke:#000">Q<tspan font-size="8.3" dy="2.9">irrev</tspan></text>
<circle cx="600.5" cy="50" r="0.95" fill="#000"/>
<text x="466.6" y="98.3" font-size="12.5" font-style="italic" fill="#1263c3" style="stroke:#1263c3" font-weight="bold">Q<tspan font-size="8.6" dy="3.9">hys,dis</tspan></text>
<circle cx="471.8" cy="86.9" r="1.1" fill="#1263c3"/>
<text x="573.2" y="145.1" font-size="12.5" font-style="italic" fill="#7a7a7a" style="stroke:#7a7a7a" font-weight="bold">Q<tspan font-size="8.6" dy="3.9">irrev,dis</tspan></text>
<circle cx="578.4" cy="133.7" r="1.1" fill="#7a7a7a"/>
<text x="58.5" y="217.3" font-size="12" text-anchor="start" fill="#000" >(c)</text>
<text x="74.4" y="217.3" font-size="12" font-style="italic" fill="#c5081d" style="stroke:#c5081d">Q<tspan font-size="8.7" dy="2.9">hys,cha</tspan></text>
<circle cx="79" cy="206" r="0.95" fill="#c5081d"/>
<path d="M120.7,215 H148.1" stroke="#c5081d" stroke-width="2"/>
<text x="152.1" y="218.5" font-size="12" text-anchor="start" fill="#000" >cycle 1</text>
<path d="M193.7,215 H219.1" stroke="#c5081d" stroke-width="1.9" stroke-dasharray="3.8,3.3"/>
<text x="225.6" y="218.5" font-size="12" text-anchor="start" fill="#000" >cycle 3</text>
<text x="382.8" y="215" font-size="12" text-anchor="start" fill="#000" >(d)</text>
<text x="398.4" y="215" font-size="12" font-style="italic" fill="#1263c3" style="stroke:#1263c3">Q<tspan font-size="8.7" dy="2.9">hys,dis</tspan></text>
<circle cx="403" cy="203.7" r="0.95" fill="#1263c3"/>
<path d="M441.9,213.3 H469" stroke="#1263c3" stroke-width="2"/>
<text x="473.3" y="217.4" font-size="12" text-anchor="start" fill="#000" >cycle 1</text>
<path d="M515.3,213.2 H540.7" stroke="#1263c3" stroke-width="1.8" stroke-dasharray="3.6,3.6"/>
<text x="546.6" y="217.4" font-size="12" text-anchor="start" fill="#000" >cycle 3</text>
</svg>
</body></html>
